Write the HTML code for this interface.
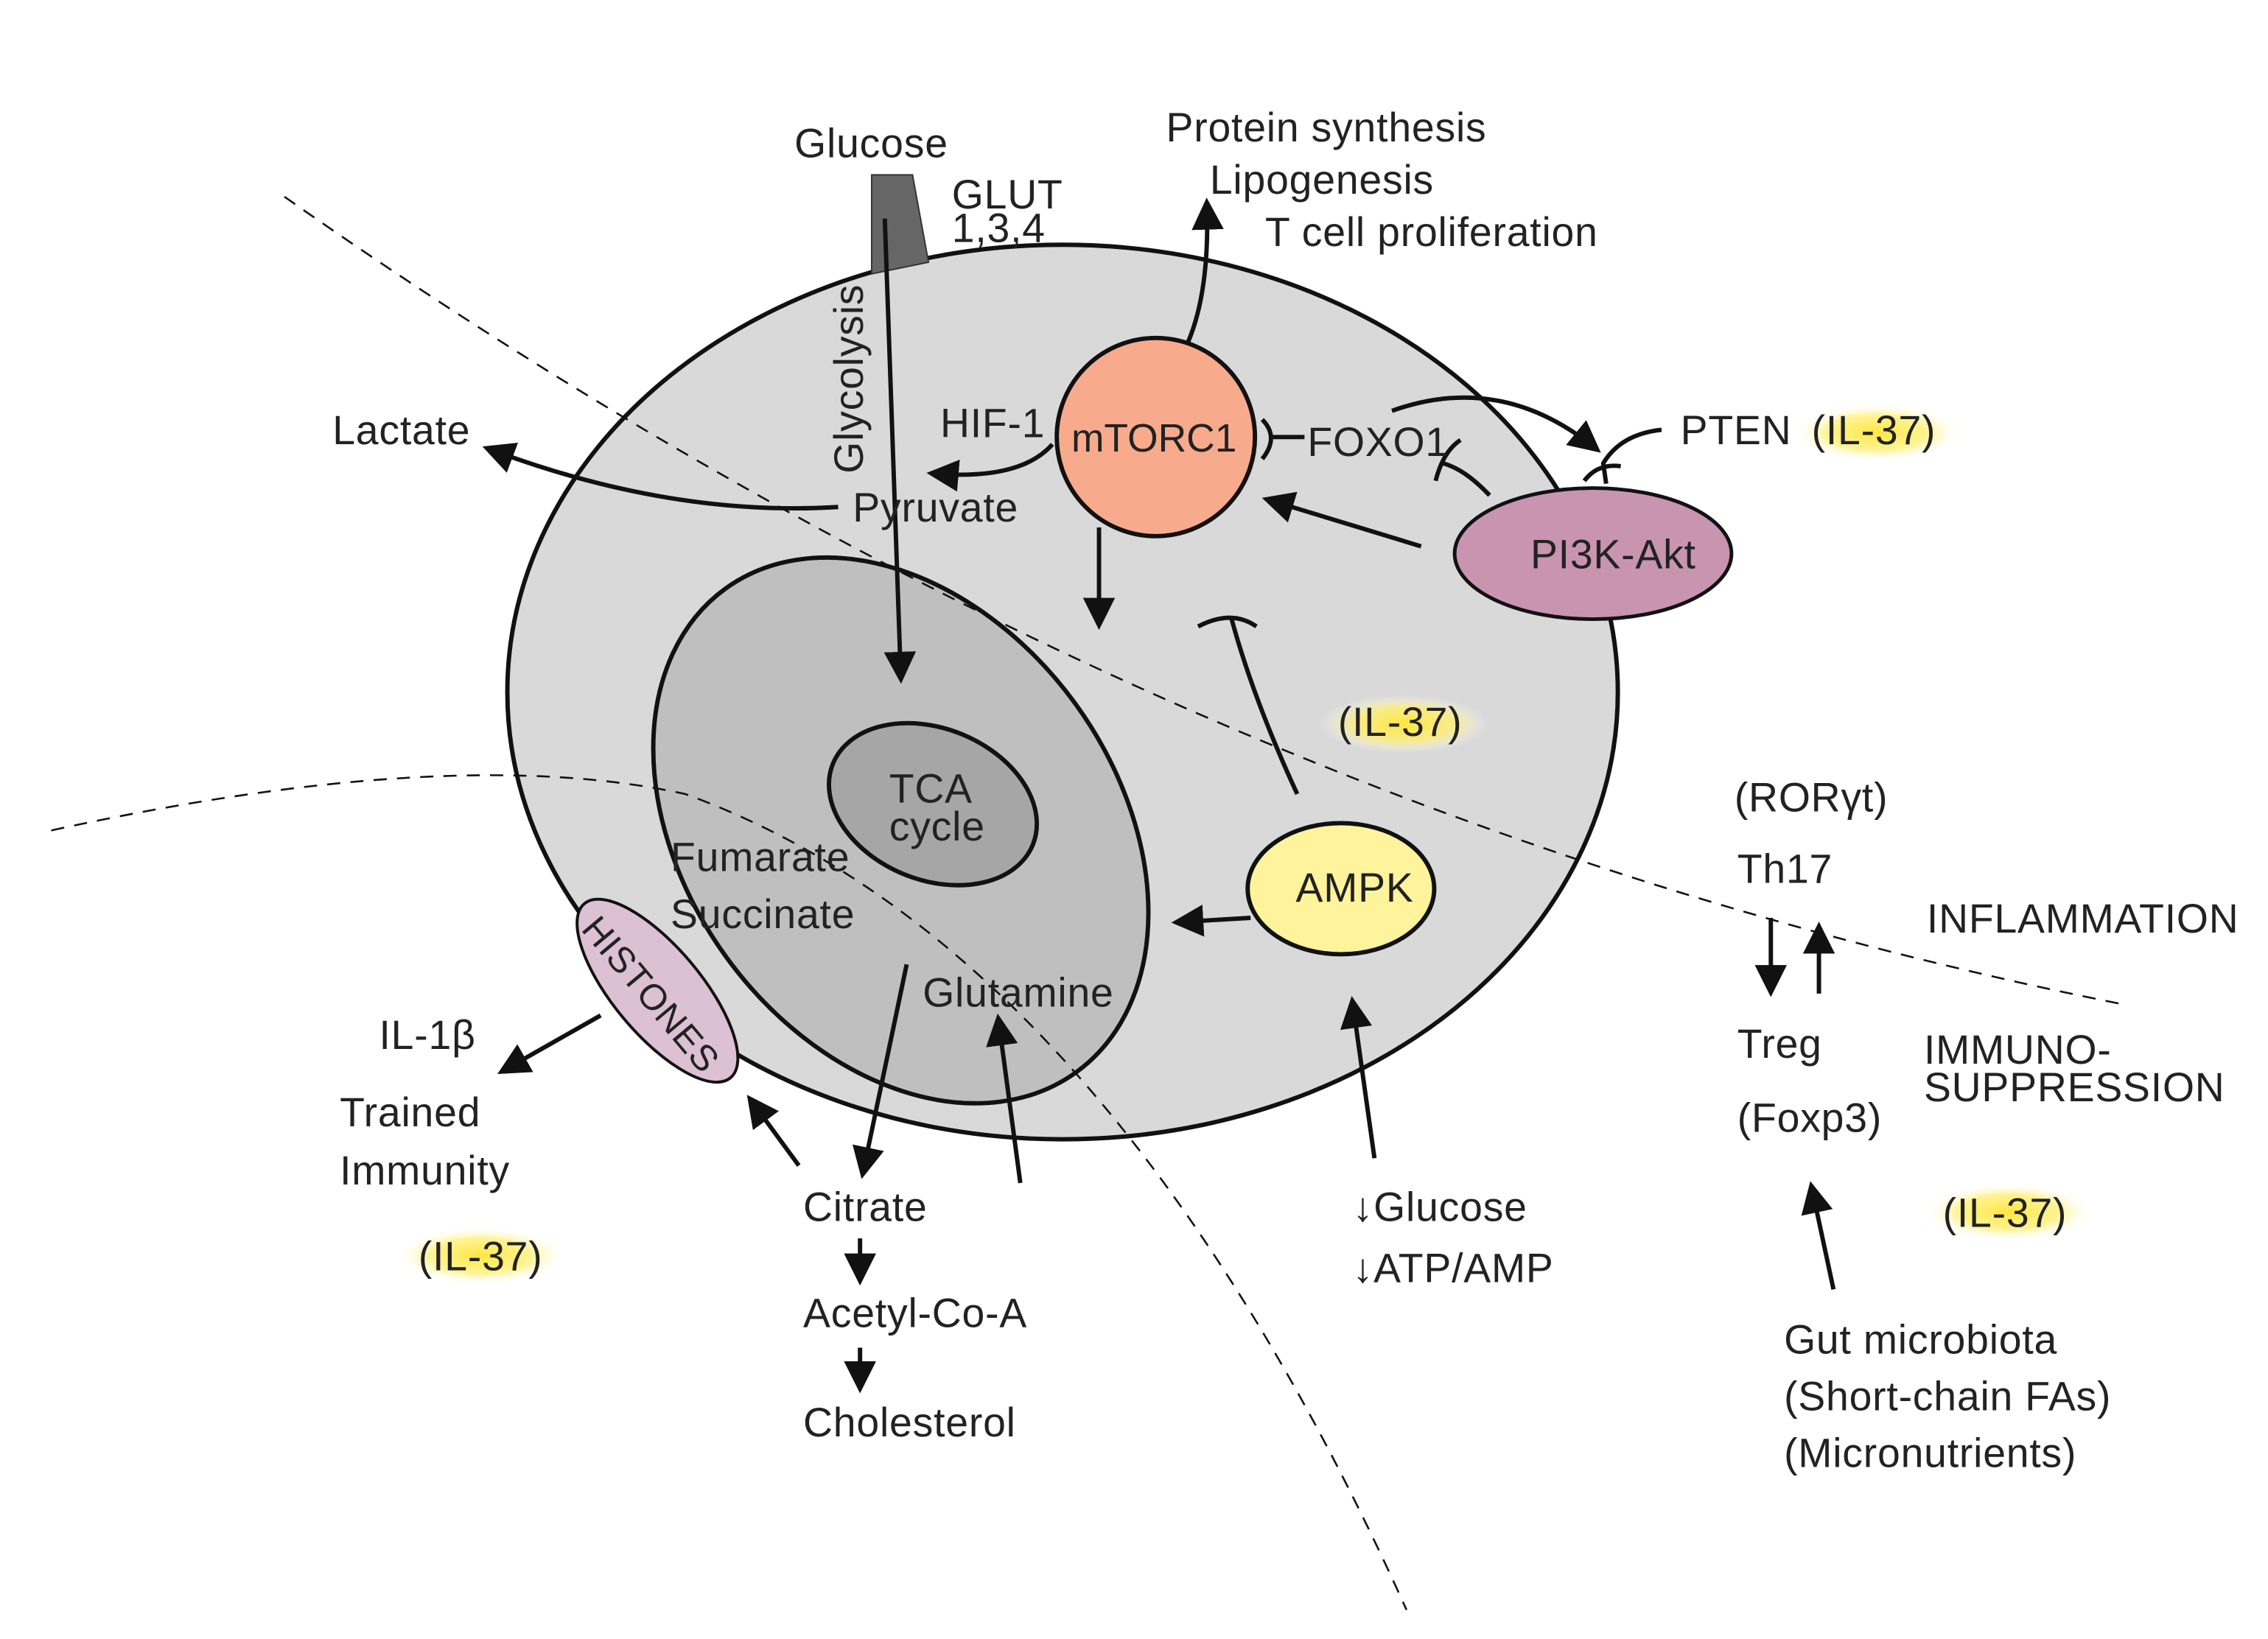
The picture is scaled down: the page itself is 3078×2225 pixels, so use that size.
<!DOCTYPE html>
<html><head><style>html,body{margin:0;padding:0;background:#fff}svg{display:block}text{font-family:"Liberation Sans",sans-serif;fill:#222}</style></head>
<body>
<svg width="3078" height="2225" viewBox="0 0 1556 1125" xmlns="http://www.w3.org/2000/svg">
<defs>
<marker id="b" viewBox="0 0 10 10" refX="8" refY="5" markerWidth="22" markerHeight="22" orient="auto" markerUnits="userSpaceOnUse"><path d="M0,0L10,5L0,10z" fill="#111"/></marker>
<radialGradient id="y"><stop offset="0" stop-color="#ffe640"/><stop offset="0.6" stop-color="#fff07a" stop-opacity="0.8"/><stop offset="1" stop-color="#fff" stop-opacity="0"/></radialGradient>
</defs>
<rect width="1556" height="1125" fill="#fff"/>
<ellipse cx="729" cy="475" rx="381" ry="307" fill="#d9d9d9" stroke="#111" stroke-width="3"/>
<polygon points="598,120 626,120 637,180 598,188" fill="#666" stroke="#333"/>
<ellipse cx="618" cy="570" rx="205" ry="148" transform="rotate(54 618 570)" fill="#bfbfbf" stroke="#111" stroke-width="3"/>
<ellipse cx="640" cy="552" rx="74" ry="52" transform="rotate(22 640 552)" fill="#a6a6a6" stroke="#111" stroke-width="3"/>
<path d="M195,135 Q800,560 1460,690" fill="none" stroke="#111" stroke-width="1.3" stroke-dasharray="9,7"/>
<path d="M35,570 Q310,510 470,545 Q760,650 965,1105" fill="none" stroke="#111" stroke-width="1.3" stroke-dasharray="9,7"/>
<circle cx="793" cy="300" r="68" fill="#f8ab8c" stroke="#111" stroke-width="3"/>
<ellipse cx="1093" cy="380" rx="95" ry="45" fill="#c994b0" stroke="#111" stroke-width="2.5"/>
<ellipse cx="920" cy="610" rx="64" ry="45" fill="#fff39b" stroke="#111" stroke-width="3"/>
<ellipse cx="451" cy="680" rx="78" ry="30" transform="rotate(50 451 680)" fill="#dcc0d4" stroke="#111" stroke-width="2"/>
<ellipse cx="1288" cy="297" rx="58" ry="20" fill="url(#y)"/>
<ellipse cx="963" cy="497" rx="58" ry="20" fill="url(#y)"/>
<ellipse cx="1378" cy="832" rx="58" ry="20" fill="url(#y)"/>
<ellipse cx="330" cy="862" rx="58" ry="20" fill="url(#y)"/>
<g fill="none" stroke="#111" stroke-width="3">
<path d="M607,150 L618,465" marker-end="url(#b)"/>
<path d="M575,348 Q460,355 335,308" marker-end="url(#b)"/>
<path d="M722,305 Q700,330 640,325" marker-end="url(#b)"/>
<path d="M815,235 Q830,200 828,140" marker-end="url(#b)"/>
<path d="M754,362 L754,428" marker-end="url(#b)"/>
<path d="M975,375 L870,343" marker-end="url(#b)"/>
<path d="M955,282 Q1030,255 1095,308" marker-end="url(#b)"/>
<path d="M858,630 L808,633" marker-end="url(#b)"/>
<path d="M622,662 L592,805" marker-end="url(#b)"/>
<path d="M700,812 L685,700" marker-end="url(#b)"/>
<path d="M548,800 L515,755" marker-end="url(#b)"/>
<path d="M412,697 L345,735" marker-end="url(#b)"/>
<path d="M943,795 L928,688" marker-end="url(#b)"/>
<path d="M1258,885 L1243,815" marker-end="url(#b)"/>
<path d="M1215,630 L1215,680" marker-end="url(#b)"/>
<path d="M1248,682 L1248,637" marker-end="url(#b)"/>
<path d="M590,850 L590,878" marker-end="url(#b)"/>
<path d="M590,925 L590,952" marker-end="url(#b)"/>
<path d="M890,545 Q860,480 845,425"/>
<path d="M822,430 Q845,418 862,430"/>
<path d="M1022,340 Q1005,322 990,318"/>
<path d="M985,330 Q990,310 1002,302"/>
<path d="M1140,295 Q1112,298 1100,318 L1102,332"/>
<path d="M1087,330 Q1096,318 1112,320"/>
<path d="M895,300 L872,300"/>
<path d="M866,288 Q878,300 866,315"/>
</g>
<g font-size="28" letter-spacing="0.4">
<text x="545" y="108">Glucose</text>
<text x="653" y="143">GLUT</text>
<text x="653" y="166">1,3,4</text>
<text x="800" y="97">Protein synthesis</text>
<text x="830" y="133">Lipogenesis</text>
<text x="868" y="169">T cell proliferation</text>
<text x="228" y="305">Lactate</text>
<text x="645" y="300">HIF-1</text>
<text x="735" y="310" font-size="27" letter-spacing="0">mTORC1</text>
<text x="897" y="313">FOXO1</text>
<text x="1153" y="305">PTEN</text>
<text x="1243" y="305">(IL-37)</text>
<text x="585" y="358">Pyruvate</text>
<text x="1050" y="390">PI3K-Akt</text>
<text x="918" y="505">(IL-37)</text>
<text x="610" y="551">TCA</text>
<text x="610" y="577">cycle</text>
<text x="1190" y="557">(ROR&#947;t)</text>
<text x="1192" y="606">Th17</text>
<text x="460" y="598">Fumarate</text>
<text x="460" y="637">Succinate</text>
<text x="889" y="619">AMPK</text>
<text x="1322" y="640">INFLAMMATION</text>
<text x="633" y="691">Glutamine</text>
<text x="260" y="720">IL-1&#946;</text>
<text x="1192" y="726">Treg</text>
<text x="1320" y="730">IMMUNO-</text>
<text x="1320" y="756">SUPPRESSION</text>
<text x="233" y="773">Trained</text>
<text x="233" y="813">Immunity</text>
<text x="1192" y="777">(Foxp3)</text>
<text x="551" y="838">Citrate</text>
<text x="928" y="838">&#8595;Glucose</text>
<text x="1333" y="842">(IL-37)</text>
<text x="287" y="872">(IL-37)</text>
<text x="928" y="880">&#8595;ATP/AMP</text>
<text x="551" y="911">Acetyl-Co-A</text>
<text x="1224" y="929">Gut microbiota</text>
<text x="1224" y="968">(Short-chain FAs)</text>
<text x="1224" y="1007">(Micronutrients)</text>
<text x="551" y="986">Cholesterol</text>
<text transform="translate(592,325) rotate(-90)">Glycolysis</text>
<text transform="translate(398,638) rotate(50)" font-size="25">HISTONES</text>
</g>
</svg>
</body></html>
